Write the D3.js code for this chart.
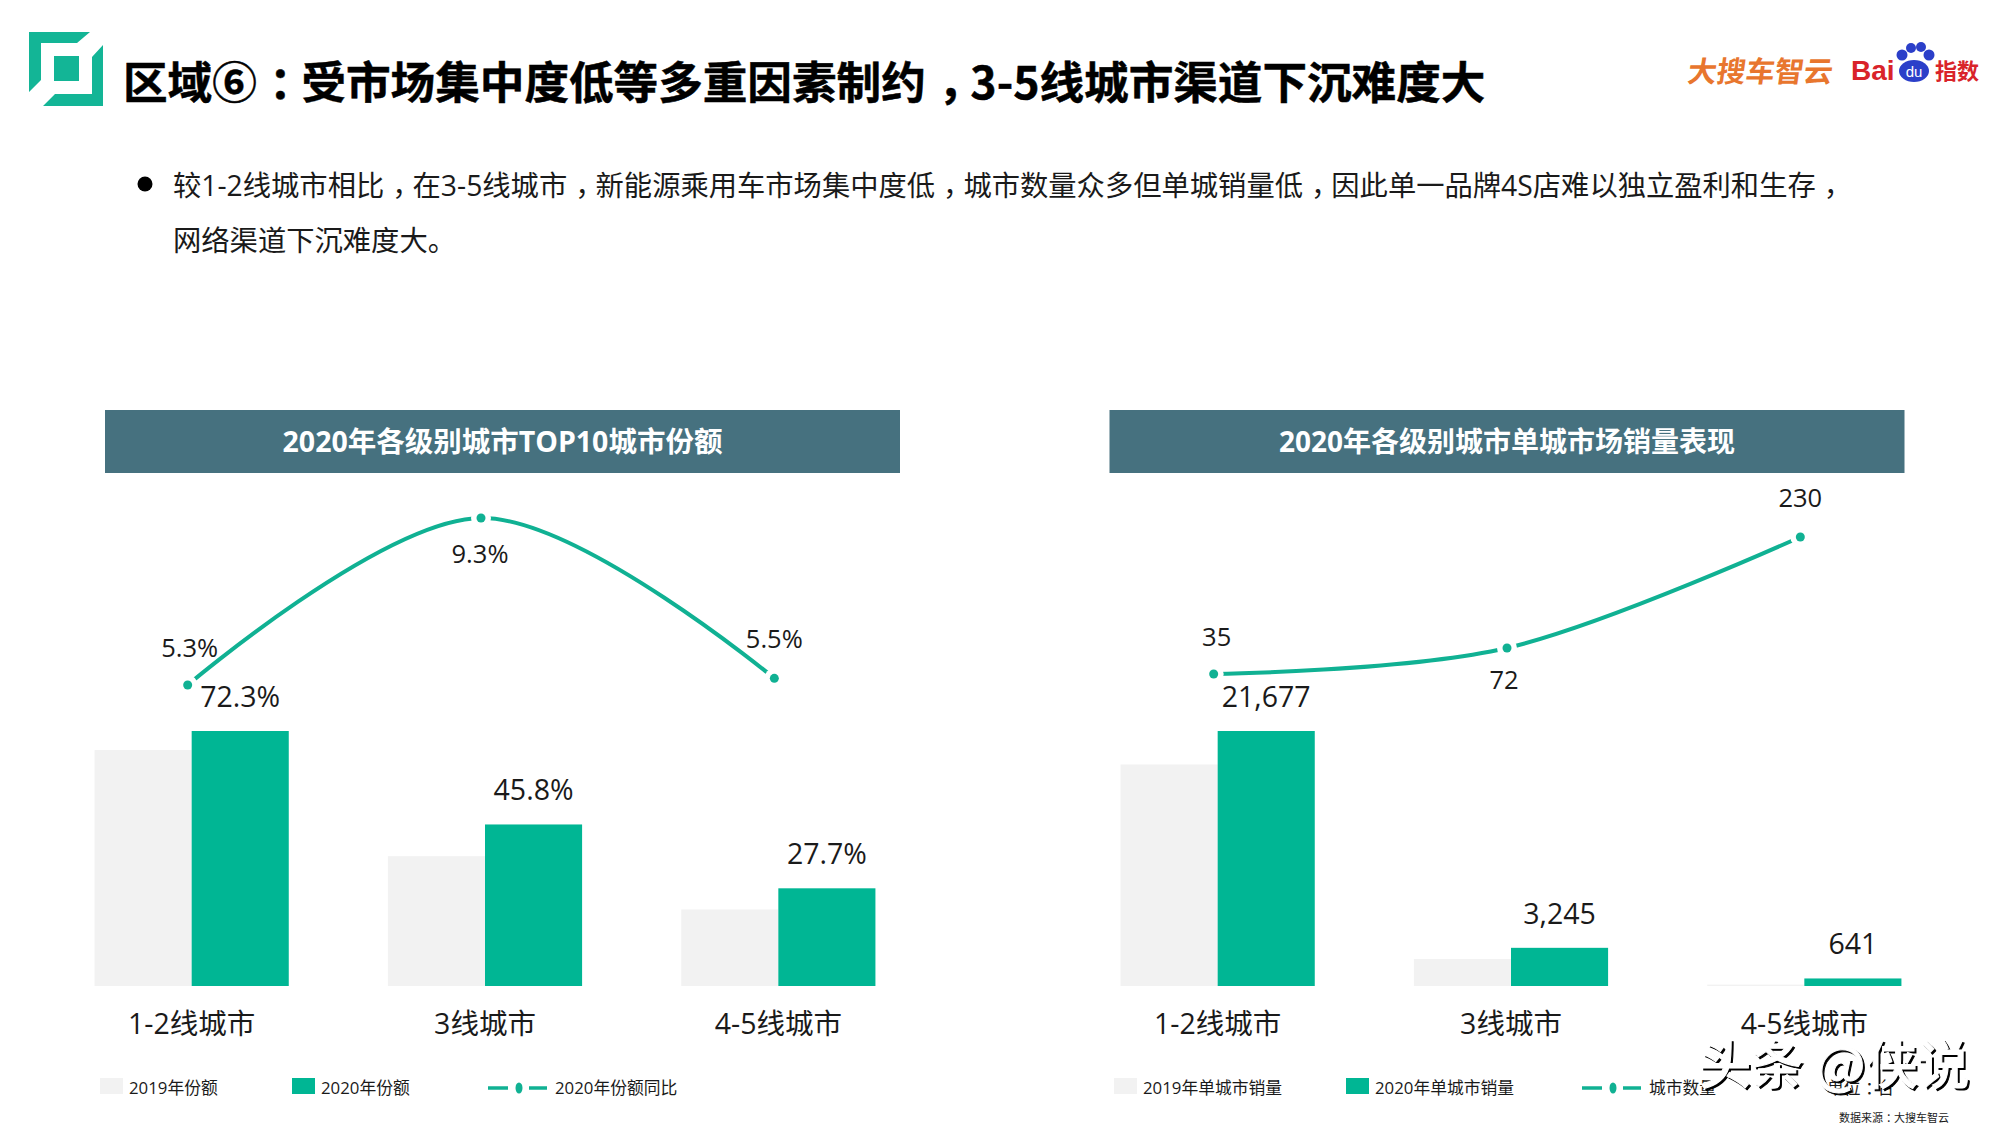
<!DOCTYPE html>
<html>
<head>
<meta charset="utf-8">
<script src="https://cdnjs.cloudflare.com/ajax/libs/d3/7.8.5/d3.min.js"></script>
<style>
    body { margin: 0; background: #fff; }
    svg { display: block; }
    text { font-family: "Open Sans", "Noto Sans CJK SC", sans-serif; fill: #1a1a1a; }
    .cjk { font-family: "Noto Sans CJK SC", sans-serif; }
</style>
</head>
<body>
<svg width="2000" height="1125"></svg>
<script>
// values
var cities = ["1-2线城市", "3线城市", "4-5线城市"];

var share2019 = [66.9, 36.8, 21.7];
var share2020 = [72.3, 45.8, 27.7];
var shareYoY = [5.3, 9.3, 5.46];

var sales2019 = [18830, 2290, 120];
var sales2020 = [21677, 3245, 641];
var cityCount = [35, 72, 230];

var GREEN = "#00b694", GREY = "#f2f2f2", LINE = "#10b193", BANNER = "#46717f";
var BASE_Y = 986, TOP_Y = 731;

var svg = d3.select("svg");

// fullwidth punctuation sits centred in the original, noto puts it to the left
function punctText(sel, str) {
    var shift = 0;
    str.split(/([，：])/).forEach(function(part) {
        if (!part) return;
        var isPunct = part === "，" || part === "：";
        sel.append("tspan")
            .attr("dx", (isPunct ? 0.28 : shift) + "em")
            .text(part);
        shift = isPunct ? -0.28 : 0;
    });
    return sel;
}

// logo, top left
var logo = svg.append("g").attr("fill", "#13b596");
logo.append("polygon").attr("points", "29,32 90,32 77,43 41,43 41,80 29,92");
logo.append("polygon").attr("points", "103,45 103,106 43,106 55,94 92,94 92,57");
logo.append("rect").attr("x", 54).attr("y", 56).attr("width", 25).attr("height", 25);

var title = svg.append("text").attr("class", "cjk")
    .attr("x", 123).attr("y", 99)
    .style("font-size", "44.6px").style("font-weight", 700).style("fill", "#000")
    .style("stroke", "#000").style("stroke-width", 0.5);
punctText(title, "区域⑥：受市场集中度低等多重因素制约，3-5线城市渠道下沉难度大");

// brand marks, top right
svg.append("text").attr("class", "cjk")
    .attr("x", 1688).attr("y", 82)
    .attr("transform", "skewX(-8) translate(10,0)")
    .style("font-size", "29px").style("font-weight", 700).style("fill", "#e8762e")
    .text("大搜车智云");
svg.append("text").attr("x", 1851).attr("y", 80)
    .style("font-family", "'Liberation Sans'").style("font-size", "28px").style("font-weight", 700).style("fill", "#d9232a")
    .text("Bai");
var paw = svg.append("g").attr("fill", "#2b3fc9");
[[1902, 55, 5.5], [1911, 48, 5], [1921, 47, 5], [1929, 55, 5.5]].forEach(function(t) {
    paw.append("circle").attr("cx", t[0]).attr("cy", t[1]).attr("r", t[2]);
});
paw.append("ellipse").attr("cx", 1914).attr("cy", 71).attr("rx", 15).attr("ry", 11);
svg.append("text").attr("x", 1914).attr("y", 77).attr("text-anchor", "middle")
    .style("font-family", "'Liberation Sans'").style("font-size", "15px").style("fill", "#fff")
    .text("du");
svg.append("text").attr("class", "cjk")
    .attr("x", 1935).attr("y", 79)
    .style("font-size", "22px").style("font-weight", 700).style("fill", "#d9232a")
    .text("指数");

// body text
svg.append("circle").attr("cx", 145).attr("cy", 184).attr("r", 7.5).attr("fill", "#000");
punctText(svg.append("text").attr("x", 173).attr("y", 196).style("font-size", "28.3px"),
    "较1-2线城市相比，在3-5线城市，新能源乘用车市场集中度低，城市数量众多但单城销量低，因此单一品牌4S店难以独立盈利和生存，");
svg.append("text").attr("x", 173).attr("y", 251)
    .style("font-size", "28.3px")
    .text("网络渠道下沉难度大。");

function drawChart(c) {
    var g = svg.append("g");

    g.append("rect")
        .attr("x", c.bannerX).attr("y", 410)
        .attr("width", 795).attr("height", 63)
        .attr("fill", BANNER);
    g.append("text")
        .attr("x", c.bannerX + 397.5).attr("y", 452)
        .attr("text-anchor", "middle")
        .style("font-size", c.titleSize).style("font-weight", 700).style("fill", "#fff")
        .text(c.title);

    var x = d3.scaleBand()
        .domain(cities)
        .range(c.xRange)
        .paddingInner(0.338)
        .paddingOuter(0.169);
    var half = x.bandwidth() / 2;

    var y = d3.scaleLinear()
        .domain([0, d3.max(c.current)])
        .range([BASE_Y, TOP_Y]);

    var yLine = d3.scaleLinear()
        .domain(c.lineDomain)
        .range(c.lineRange);

    // bars
    g.selectAll(".prev").data(c.previous).enter().append("rect")
        .attr("class", "prev")
        .attr("x", function(d, i) { return x(cities[i]); })
        .attr("y", function(d) { return y(d); })
        .attr("width", half)
        .attr("height", function(d) { return BASE_Y - y(d); })
        .attr("fill", GREY);

    g.selectAll(".curr").data(c.current).enter().append("rect")
        .attr("class", "curr")
        .attr("x", function(d, i) { return x(cities[i]) + half; })
        .attr("y", function(d) { return y(d); })
        .attr("width", half)
        .attr("height", function(d) { return BASE_Y - y(d); })
        .attr("fill", GREEN);

    g.selectAll(".barlabel").data(c.current).enter().append("text")
        .attr("class", "barlabel")
        .attr("x", function(d, i) { return x(cities[i]) + half * 1.5; })
        .attr("y", function(d) { return y(d) - 34; })
        .attr("dy", "0.35em")
        .attr("text-anchor", "middle")
        .style("font-size", "28.5px")
        .text(c.barFormat);

    // category axis
    var axis = g.append("g")
        .attr("transform", "translate(0," + BASE_Y + ")")
        .call(d3.axisBottom(x).tickSize(0).tickPadding(28));
    axis.select(".domain").remove();
    axis.selectAll("text")
        .style("font-family", '"Open Sans", "Noto Sans CJK SC", sans-serif')
        .style("font-size", "28.5px")
        .style("fill", "#1a1a1a");

    // line on its own scale
    var lineX = function(d, i) { return x(cities[i]) + half - 4; };
    var line = d3.line()
        .x(lineX)
        .y(function(d) { return yLine(d); })
        .curve(d3.curveCardinal.tension(0));

    g.append("path")
        .attr("d", line(c.line))
        .attr("fill", "none")
        .attr("stroke", LINE)
        .attr("stroke-width", 4);

    g.selectAll(".halo").data(c.line).enter().append("circle")
        .attr("class", "halo")
        .attr("cx", lineX)
        .attr("cy", function(d) { return yLine(d); })
        .attr("r", 10)
        .attr("fill", "#fff");
    g.selectAll(".dot").data(c.line).enter().append("circle")
        .attr("class", "dot")
        .attr("cx", lineX)
        .attr("cy", function(d) { return yLine(d); })
        .attr("r", 4.5)
        .attr("fill", LINE);

    g.selectAll(".linelabel").data(c.line).enter().append("text")
        .attr("class", "linelabel")
        .attr("x", function(d, i) { return lineX(d, i) + c.labelDx[i]; })
        .attr("y", function(d, i) { return yLine(d) + c.labelDy[i]; })
        .attr("dy", "0.35em")
        .attr("text-anchor", "middle")
        .style("font-size", "25.5px")
        .text(c.lineFormat);

    // legend
    var legend = g.append("g").style("font-size", "16.8px");
    legend.append("rect").attr("x", c.legend[0]).attr("y", 1078).attr("width", 23).attr("height", 16).attr("fill", GREY);
    legend.append("text").attr("x", c.legend[0] + 29).attr("y", 1094).text(c.names[0]);
    legend.append("rect").attr("x", c.legend[1]).attr("y", 1078).attr("width", 23).attr("height", 16).attr("fill", GREEN);
    legend.append("text").attr("x", c.legend[1] + 29).attr("y", 1094).text(c.names[1]);
    var lx = c.legend[2];
    legend.append("line").attr("x1", lx).attr("x2", lx + 20).attr("y1", 1088).attr("y2", 1088).attr("stroke", LINE).attr("stroke-width", 3.5);
    legend.append("line").attr("x1", lx + 41).attr("x2", lx + 59).attr("y1", 1088).attr("y2", 1088).attr("stroke", LINE).attr("stroke-width", 3.5);
    legend.append("ellipse").attr("cx", lx + 31).attr("cy", 1088).attr("rx", 3.5).attr("ry", 5.5).attr("fill", LINE);
    legend.append("text").attr("x", lx + 67).attr("y", 1094).text(c.names[2]);
}

drawChart({
    title: "2020年各级别城市TOP10城市份额",
    titleSize: "28.5px",
    bannerX: 105,
    xRange: [45, 925],
    previous: share2019,
    current: share2020,
    line: shareYoY,
    lineDomain: [5.3, 9.3],
    lineRange: [685, 518],
    barFormat: function(d) { return d3.format(".1f")(d) + "%"; },
    lineFormat: function(d) { return d3.format(".1f")(d) + "%"; },
    labelDx: [2, -1, 0],
    labelDy: [-37, 36, -39],
    legend: [100, 292, 488],
    names: ["2019年份额", "2020年份额", "2020年份额同比"]
});

drawChart({
    title: "2020年各级别城市单城市场销量表现",
    titleSize: "28px",
    bannerX: 1109.5,
    xRange: [1071, 1951],
    previous: sales2019,
    current: sales2020,
    line: cityCount,
    lineDomain: [35, 230],
    lineRange: [674, 537],
    barFormat: d3.format(","),
    lineFormat: d3.format(","),
    labelDx: [3, -3, 0],
    labelDy: [-37, 32, -39],
    legend: [1114, 1346, 1582],
    names: ["2019年单城市销量", "2020年单城市销量", "城市数量"]
});

// unit and source
punctText(svg.append("text").attr("x", 1827).attr("y", 1094).style("font-size", "16.8px"), "单位：台");
punctText(svg.append("text").attr("x", 1839).attr("y", 1122).style("font-size", "11px"), "数据来源：大搜车智云");

// watermark
svg.append("text").attr("class", "cjk")
    .attr("x", 1701).attr("y", 1086)
    .style("font-size", "52px").style("font-weight", 500).style("fill", "#000")
    .style("stroke", "#000").style("stroke-width", 1)
    .text("头条 @侠说");
svg.append("text").attr("class", "cjk")
    .attr("x", 1699).attr("y", 1084)
    .style("font-size", "52px").style("font-weight", 500).style("fill", "#fff")
    .style("stroke", "#fff").style("stroke-width", 1)
    .text("头条 @侠说");
</script>
</body>
</html>
